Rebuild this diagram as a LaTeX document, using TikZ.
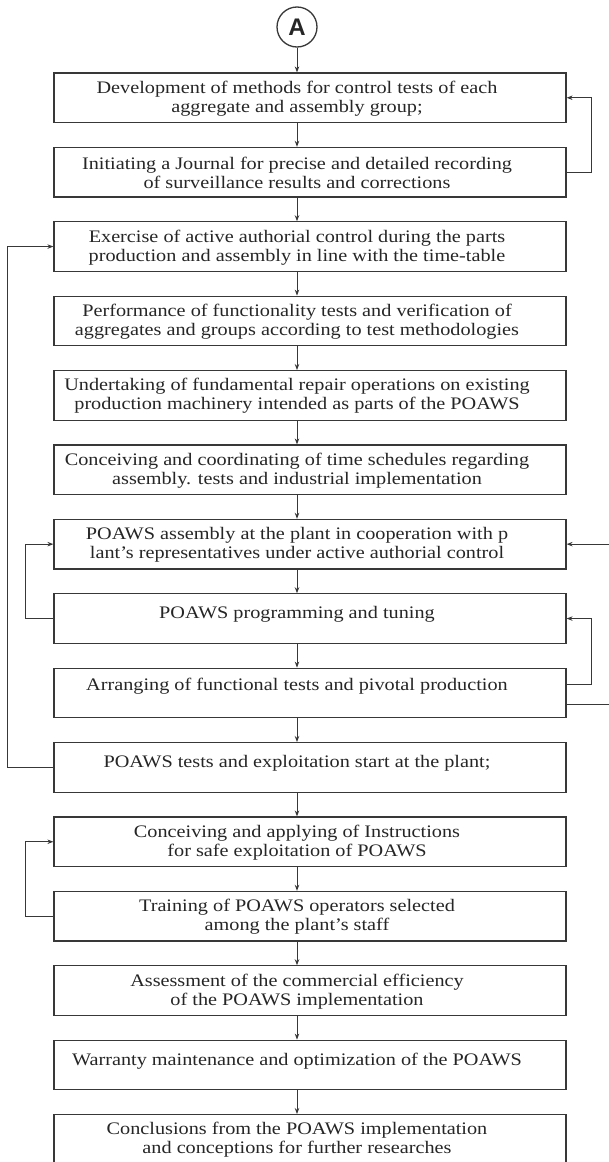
\documentclass[tikz,border=0pt]{standalone}
\usepackage{fontspec}
\setmainfont{Liberation Serif}[FakeStretch=1.15]
\newfontfamily\circfont{Liberation Sans}
\usetikzlibrary{arrows.meta}
\definecolor{ln}{HTML}{383838}
\definecolor{tx}{HTML}{262626}
\begin{document}
\begin{tikzpicture}[x=1pt,y=-1pt,
  box/.style={draw=ln,line width=1.2pt,fill=white,minimum width=512pt,minimum height=49.5pt,inner sep=0pt},
  txt/.style={inner sep=0pt,align=center,text=tx,font=\fontsize{17.6}{19}\selectfont},
  conn/.style={draw=ln,line width=0.9pt,-{Stealth[length=6pt,width=4.5pt]}},
  ]
\useasboundingbox (0,0) rectangle (608,1162);
\node[circle,draw=ln,line width=1.3pt,minimum size=40pt,inner sep=0pt,text=tx,font=\circfont\bfseries\fontsize{24}{24}\selectfont] (A) at (297,27) {A};
% boxes
\node[box] (b1) at (310,97.75) {};
\node[box] (b2) at (310,172.15) {};
\node[box] (b3) at (310,246.55) {};
\node[box] (b4) at (310,320.95) {};
\node[box] (b5) at (310,395.35) {};
\node[box] (b6) at (310,469.75) {};
\node[box] (b7) at (310,544.15) {};
\node[box] (b8) at (310,618.55) {};
\node[box] (b9) at (310,692.95) {};
\node[box] (b10) at (310,767.35) {};
\node[box] (b11) at (310,841.75) {};
\node[box] (b12) at (310,916.15) {};
\node[box] (b13) at (310,990.55) {};
\node[box] (b14) at (310,1064.95) {};
\node[box] (b15) at (310,1139.35) {};
% texts
\node[txt] (t1) at (297,99) {Development of methods for control tests of each\\aggregate and assembly group;};
\node[txt] (t2) at (297,173) {Initiating a Journal for precise and detailed recording\\of surveillance results and corrections};
\node[txt] (t3) at (297,247.5) {Exercise of active authorial control during the parts\\production and assembly in line with the time-table};
\node[txt] (t4) at (297,322) {Performance of functionality tests and verification of\\aggregates and groups according to test methodologies};
\node[txt] (t5) at (297,396) {Undertaking of fundamental repair operations on existing\\production machinery intended as parts of the POAWS};
\node[txt] (t6) at (297,470.5) {Conceiving and coordinating of time schedules regarding\\assembly. tests and industrial implementation};
\node[txt] (t7) at (297,545) {POAWS assembly at the plant in cooperation with p\\lant's representatives under active authorial control};
\node[txt] (t8) at (297,614.5) {POAWS programming and tuning};
\node[txt] (t9) at (297,686) {Arranging of functional tests and pivotal production};
\node[txt] (t10) at (297,763) {POAWS tests and exploitation start at the plant;};
\node[txt] (t11) at (297,842.5) {Conceiving and applying of Instructions\\for safe exploitation of POAWS};
\node[txt] (t12) at (297,917) {Training of POAWS operators selected\\among the plant's staff};
\node[txt] (t13) at (297,991.5) {Assessment of the commercial efficiency\\of the POAWS implementation};
\node[txt] (t14) at (297,1061) {Warranty maintenance and optimization of the POAWS};
\node[txt] (t15) at (297,1140) {Conclusions from the POAWS implementation\\and conceptions for further researches};
% main flow
\draw[conn] (A.south) -- (A.south |- b1.north);
\foreach \i/\j in {1/2,2/3,3/4,4/5,5/6,6/7,7/8,8/9,9/10,10/11,11/12,12/13,13/14,14/15}{
  \draw[conn] (A |- b\i.south) -- (A |- b\j.north);
}
% feedback loops
\draw[conn] (b2.east) -- ++(25,0) |- (b1.east);
\draw[conn] ([yshift=9pt]b9.east) -- ++(25,0) |- (b8.east);
\draw[conn] ([yshift=-11pt]b9.east) -- ++(50,0) |- (b7.east);
\draw[conn] (b10.west) -- ++(-46,0) |- (b3.west);
\draw[conn] (b8.west) -- ++(-28,0) |- (b7.west);
\draw[conn] (b12.west) -- ++(-28,0) |- (b11.west);
\end{tikzpicture}
\end{document}
